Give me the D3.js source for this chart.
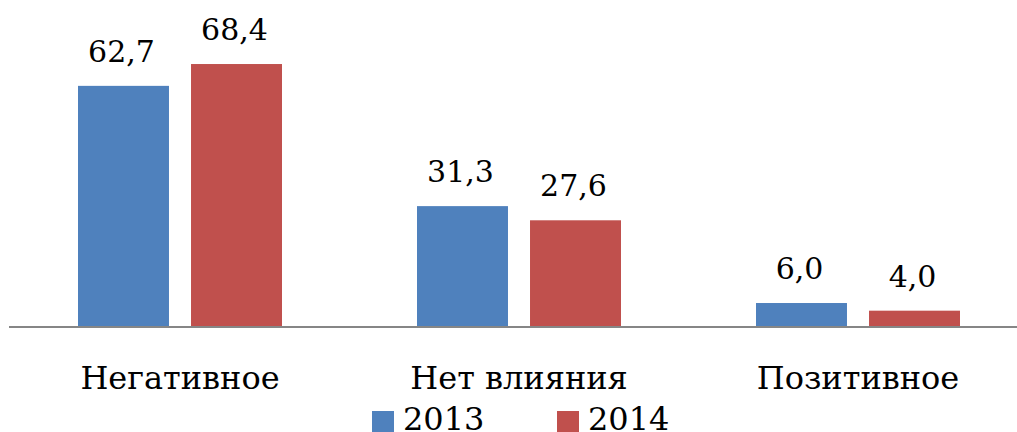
<!DOCTYPE html>
<html>
<head>
<meta charset="utf-8">
<script src="https://cdn.jsdelivr.net/npm/d3@7"></script>
<style>
  html, body { margin: 0; padding: 0; background: #fff; }
  svg { display: block; }
</style>
</head>
<body>
<div id="chart"></div>
<script>
var width = 1017;
var height = 432;
var fontFamily = "'DejaVu Serif'";

let categories = ["Негативное", "Нет влияния", "Позитивное"];
let series = ["2013", "2014"];
let values2013 = [62.7, 31.3, 6.0];
let values2014 = [68.4, 27.6, 4.0];
let colors = ["#4F81BD", "#C0504D"];

let baseY = 326;
let pxPerUnit = 3.83;

let scaleX = d3.scaleBand()
    .domain(categories)
    .range([10.5, 1027.5])
    .padding(0);

let scaleX1 = d3.scaleBand()
    .domain(series)
    .range([-102, 102])
    .paddingInner(0.195)
    .paddingOuter(0);

let scaleY = d3.scaleLinear()
    .domain([0, 80])
    .range([baseY, baseY - 80 * pxPerUnit]);

let fmt = v => d3.format(".1f")(v).replace(".", ",");

let rows = categories.map((c, i) => ({
    cat: c,
    vals: [
        { s: series[0], v: values2013[i], col: colors[0] },
        { s: series[1], v: values2014[i], col: colors[1] }
    ]
}));

const svg = d3.select("#chart")
    .append("svg")
    .attr("width", width)
    .attr("height", height);

let group = svg.selectAll(".group")
    .data(rows)
    .enter()
    .append("g")
    .classed("group", true)
    .attr("transform", d => "translate(" + (scaleX(d.cat) + scaleX.bandwidth() / 2) + ",0)");

group.selectAll("rect")
    .data(d => d.vals)
    .enter()
    .append("rect")
    .attr("x", d => scaleX1(d.s))
    .attr("y", d => scaleY(d.v))
    .attr("width", scaleX1.bandwidth())
    .attr("height", d => scaleY(0) - scaleY(d.v))
    .attr("fill", d => d.col);

group.selectAll(".val")
    .data(d => d.vals)
    .enter()
    .append("text")
    .classed("val", true)
    .attr("x", d => scaleX1(d.s) + scaleX1.bandwidth() / 2 - 2)
    .attr("y", d => scaleY(d.v) - 24)
    .attr("text-anchor", "middle")
    .attr("font-family", fontFamily)
    .attr("font-size", 30)
    .text(d => fmt(d.v));

// category axis
svg.append("line")
    .attr("x1", 9)
    .attr("x2", width)
    .attr("y1", 327)
    .attr("y2", 327)
    .attr("stroke", "#868686")
    .attr("stroke-width", 2);

group.append("text")
    .attr("x", 0)
    .attr("y", 389)
    .attr("text-anchor", "middle")
    .attr("font-family", fontFamily)
    .attr("font-size", 32)
    .text(d => d.cat);

// legend
let legendX = [372, 557];
let legend = svg.selectAll(".legend")
    .data(series)
    .enter()
    .append("g")
    .classed("legend", true)
    .attr("transform", (d, i) => "translate(" + legendX[i] + ",0)");

legend.append("rect")
    .attr("x", 0)
    .attr("y", 411)
    .attr("width", 22)
    .attr("height", 21)
    .attr("fill", (d, i) => colors[i]);

legend.append("text")
    .attr("x", 31)
    .attr("y", 430)
    .attr("font-family", fontFamily)
    .attr("font-size", 32)
    .text(d => d);
</script>
</body>
</html>
